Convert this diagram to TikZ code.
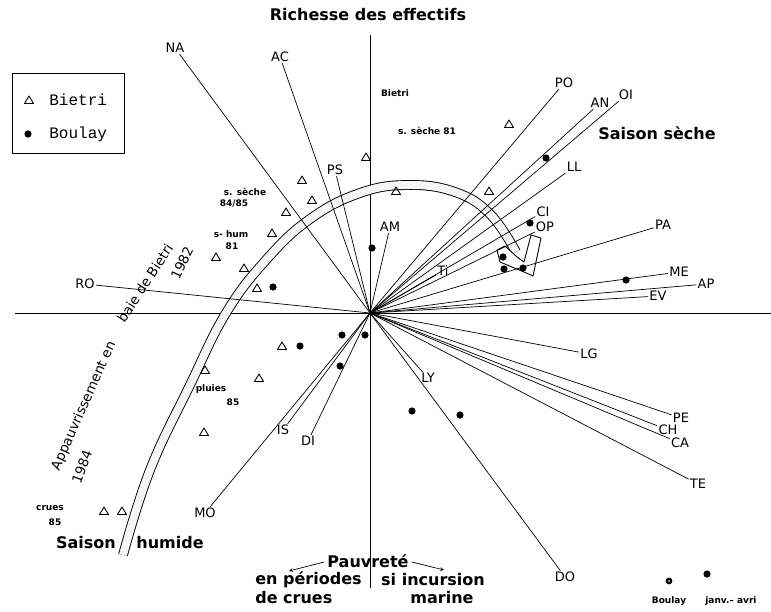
\documentclass[tikz,border=0pt]{standalone}
\usepackage{fontspec}
\setmainfont{DejaVu Sans}
\newfontfamily\legfont{Liberation Mono}
\usetikzlibrary{arrows.meta}

\begin{document}
\begin{tikzpicture}[x=1pt,y=-1pt,line width=0.7pt,
    var/.style={inner sep=1pt, font=\fontsize{13}{13}\selectfont},
    remark/.style={inner sep=0pt, font=\bfseries\fontsize{9}{10}\selectfont},
    big/.style={inner sep=0pt, font=\bfseries\fontsize{16}{18}\selectfont},
    slant/.style={inner sep=0pt, font=\fontsize{13.5}{14}\selectfont},
    band/.style={line width=0.9pt, double=gray!8, double distance=8pt},
    tri/.style={line width=0.9pt, line join=round},
  ]
    \useasboundingbox (0,0) rectangle (771,611);

    % axes
    \coordinate (O) at (370,313);
    \coordinate (ytop) at (370,35);
    \coordinate (ybot) at (370,588);
    \coordinate (xl) at (15,313);
    \coordinate (xr) at (771,313);
    \draw (ytop) -- (ybot);
    \draw (xl) -- (xr);

    \node[big] (title) at (368,15) {Richesse des effectifs};

    % band
    \draw[band] plot[smooth, tension=0.7] coordinates {(123,555) (150,470) (190,385) (226,313) (266,260) (310,219) (360,193) (408,185) (455,192) (490,214) (516,252)};
    \draw[line width=0.9pt, fill=white, line join=round] (517,257) -- (505,246) -- (497,250) -- (500,262) -- (524,272) -- (533,276) -- (541,238) -- (531,235) -- (524,262) -- cycle;

    % variables
    \foreach \n/\x/\y in {NA/175/48, AC/280/57, PS/335/170, AM/390/227, Ti/443/271,
        PO/564/83, AN/600/103, OI/626/95, LL/574/167, CI/543/212, OP/545/227,
        PA/663/225, ME/679/272, AP/706/284, EV/658/296, LG/589/354, LY/428/378,
        PE/681/418, CH/668/430, CA/680/443, TE/698/484, DO/565/577, DI/308/441,
        IS/283/430, MO/205/513, RO/85/284}{
      \node[var] (\n) at (\x,\y) {\n};
      \draw (O) -- (\n);
    }

    % Boulay
    \foreach \x/\y in {546/158, 530/223, 503/257, 504/269, 523/268, 626/280, 372/248,
        273/287, 300/346, 342/335, 365/335, 340/366, 412/411, 460/415, 707/574}
      \fill (\x,\y) circle (3.6pt);
    \fill (669,581) circle (3.4pt);
    \fill[white] (669,581) circle (0.9pt);

    % Bietri
    \foreach \x/\y in {509/124, 489/191, 366/157, 396/191, 302/180, 312/200, 286/212,
        272/233, 216/257, 244/268, 257/288, 282/346, 205/370, 259/378, 204/432,
        104/511, 122/511}
      \draw[tri] (\x,\y) ++(0,-4) -- ++(4.5,7.5) -- ++(-9,0) -- cycle;

    % legend
    \node[draw, line width=0.9pt, minimum width=112pt, minimum height=80pt] (legend) at (68,113) {};
    \draw[tri] (29,100) ++(0,-4) -- ++(4.5,7.5) -- ++(-9,0) -- cycle;
    \fill (28,134) circle (3.6pt);
    \node[anchor=west, inner sep=0pt, font=\legfont\fontsize{16}{16}\selectfont] (lbietri) at (49,100) {Bietri};
    \node[anchor=west, inner sep=0pt, font=\legfont\fontsize{16}{16}\selectfont] (lboulay) at (49,134) {Boulay};

    % remarks
    \node[remark] (bietri) at (395,93) {Bietri};
    \node[remark] (sseche81) at (427,131) {s. sèche 81};
    \node[remark] (sseche) at (245,192) {s. sèche};
    \node[remark] (an8485) at (234,204) {84/85};
    \node[remark] (shum) at (231,234) {s- hum};
    \node[remark] (an81) at (232,246) {81};
    \node[remark] (pluies) at (211,389) {pluies};
    \node[remark] (an85) at (233,402) {85};
    \node[remark] (crues) at (50,508) {crues};
    \node[remark] (cr85) at (55,522) {85};
    \node[remark] (boulay) at (669,601) {Boulay};
    \node[remark, anchor=west] (janv) at (705,601) {janv.– avri};

    \node[big] (sseche) at (657,133) {Saison sèche};
    \node[big] (saison) at (86,543) {Saison};
    \node[big] (humide) at (170,543) {humide};

    \node[slant, rotate=66] (appauv) at (84,406) {Appauvrissement en};
    \node[slant, rotate=57] (baie) at (145,283) {baie de Bietri};
    \node[slant, rotate=65] (y1982) at (182,263) {1982};
    \node[slant, rotate=70] (y1984) at (82,467) {1984};

    % poverty
    \node[big] (pauv) at (368,561) {Pauvreté};
    \node[big, anchor=west] (crues1) at (255,580) {en périodes};
    \node[big, anchor=west] (crues2) at (255,598) {de crues};
    \node[big] (marin1) at (433,580) {si incursion};
    \node[big] (marin2) at (442,598) {marine};
    \coordinate (pl) at (289,571);
    \coordinate (pr) at (444,570);
    \draw[-stealth] (pauv.west) ++(-3,1) -- (pl);
    \draw[-stealth] (pauv.east) ++(3,1) -- (pr);

\end{tikzpicture}
\end{document}
